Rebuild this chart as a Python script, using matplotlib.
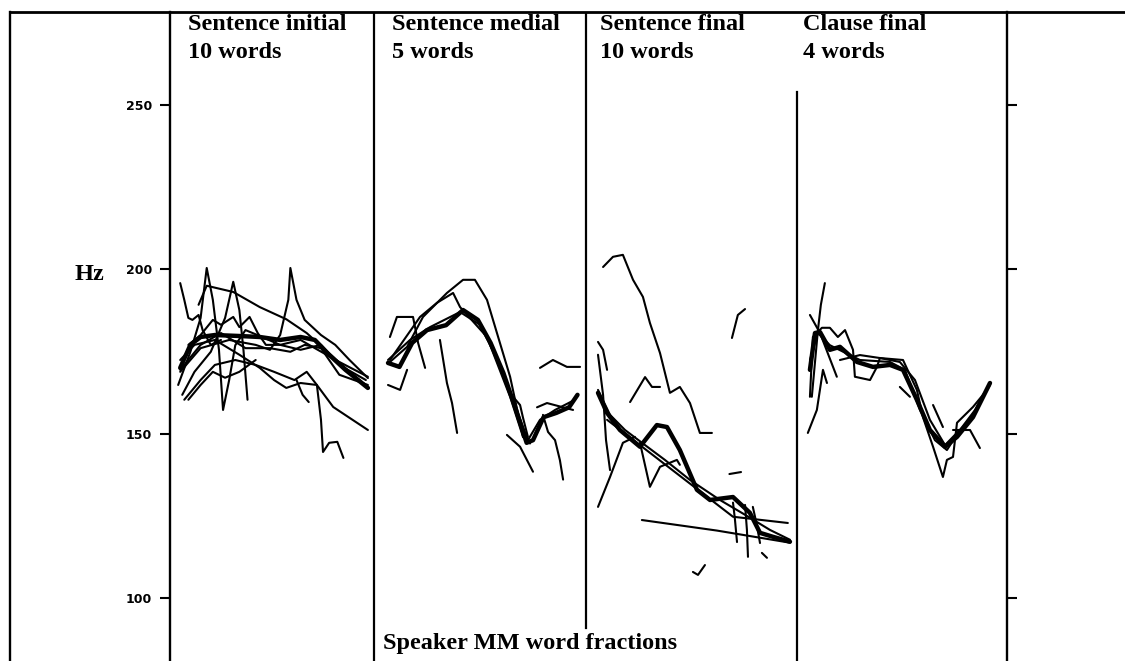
import matplotlib.pyplot as plt
from matplotlib.lines import Line2D

plt.rcParams['font.family'] = ['Liberation Serif', 'DejaVu Serif']

# panel titles
PANEL_NAMES = ["Sentence initial", "Sentence medial", "Sentence final", "Clause final"]
PANEL_COUNTS = ["10 words", "5 words", "10 words", "4 words"]
Y_TICKS = [100, 150, 200, 250]

# F0 contours: (word fraction within panel, Hz); *_MEAN is the thick average contour
INIT_WORDS = [
    ([.14, .18, .31, .44, .57, .67, .80, .88, .97],
     [189.2, 195, 193.1, 188.5, 184.8, 180.6, 173.3, 168.8, 164.2]),
    ([.04, .10, .15, .18, .21, .24, .26, .29, .32, .37, .44, .54, .64, .74, .83, .96],
     [164.8, 174.9, 185.2, 200.4, 190.7, 175.5, 157.2, 166.3, 176.9, 181.5, 179.7, 177, 175.5, 177, 170.9, 166.3]),
    ([.06, .12, .20, .27, .31, .34, .36, .38],
     [161.8, 168.8, 174.9, 185.2, 196.2, 187.6, 175.5, 160.3]),
    ([.05, .15, .29, .42, .49, .54, .58, .59, .62, .66, .74, .81, .88, .97],
     [168.8, 176, 178.5, 177, 175.5, 180, 190.7, 200.4, 190.7, 184.6, 180, 177, 172.4, 166.9]),
    ([.07, .15, .22, .32, .42, .51, .61, .67, .72, .74, .75, .78, .82, .85],
     [160.3, 166.3, 170.9, 172.4, 170.9, 168.8, 166.3, 168.8, 164.8, 154.2, 144.4, 147.2, 147.5, 142.6]),
    ([.05, .12, .22, .34, .44, .51, .57, .64, .72, .80, .88, .97],
     [172.4, 177, 178.5, 174, 170, 166.3, 163.9, 165.4, 164.8, 158.1, 154.8, 151.1]),
    ([.62, .65, .68], [166.3, 161.8, 159.6]),
    ([.09, .15, .21, .25, .31, .34, .39, .43, .47, .54, .64, .71, .83, .97],
     [177, 180, 184.6, 183.1, 185.5, 182.4, 185.5, 180.6, 177, 177, 178.5, 176, 171.8, 167.3]),
    ([.05, .07, .09, .11, .14, .16, .20, .25],
     [195.8, 190.7, 185.2, 184.6, 186.1, 181.5, 177, 178.5]),
    ([.09, .15, .21, .27, .34, .42], [160.3, 164.8, 168.8, 167, 168.8, 172.4]),
    ([.05, .15, .25, .37, .49, .59, .66, .74, .83, .97],
     [169.4, 177, 180.6, 176, 176, 174.9, 177, 176, 167.9, 164.8]),
]
INIT_MEAN = ([.05, .10, .15, .22, .34, .44, .54, .64, .71, .78, .86, .97],
             [170, 177, 179.4, 180, 179.7, 179.4, 178.5, 179.4, 178.5, 174, 169.4, 163.9])

MED_WORDS = [
    ([.075, .156, .231, .344, .420, .476, .533, .580, .642, .703, .736],
     [171.8, 176.4, 185.5, 192.8, 196.8, 196.8, 190.7, 180.6, 167.3, 149, 147]),
    ([.075, .217, .297, .373, .406, .533, .642, .703],
     [172.4, 185.5, 189.8, 192.8, 188.5, 179.4, 161.2, 149]),
    ([.075, .108, .184, .208, .241], [179.4, 185.5, 185.5, 177.6, 170]),
    ([.066, .123, .156], [164.8, 163.3, 169.4]),
    ([.311, .344, .368, .392], [178.5, 165.4, 159.3, 150.2]),
    ([.627, .689, .75], [149.6, 146, 138.4]),
    ([.656, .689, .703, .726], [161.2, 158.7, 154.8, 149]),
    ([.797, .821, .854, .877, .892], [155.7, 150.5, 148, 141.9, 136]),
    ([.783, .844, .910, .972], [170, 172.4, 170.3, 170.3]),
    ([.769, .816, .892, .939], [158, 159.3, 158, 157.2]),
    ([.066, .17, .264, .406, .5, .594, .665, .726, .783, .854, .948],
     [172.4, 178.5, 182.4, 187, 183.1, 170.9, 158.7, 148, 154.2, 157.2, 160.3]),
]
MED_MEAN = ([.066, .12, .18, .25, .34, .42, .49, .55, .61, .67, .72, .75, .80, .86, .92, .96],
            [171.5, 170.3, 177.6, 181.5, 183, 187.6, 184.6, 177.6, 168.5, 157.2, 147.2, 148, 155, 156.3, 158, 161.8])

FIN_WORDS = [
    ([.081, .128, .175, .223, .27, .303, .351, .398, .445, .493, .540, .597],
     [200.7, 203.8, 204.4, 196.8, 191.6, 183.7, 174.5, 162.4, 164.2, 159.3, 150.2, 150.2]),
    ([.057, .081, .10], [177.9, 175.5, 169.4]),
    ([.209, .28, .313, .351], [159.6, 167.2, 164.2, 164.2]),
    ([.692, .720, .754], [179.1, 186.1, 187.9]),
    ([.265, .62, .967], [123.7, 120.5, 116.8]),
    ([.10, .697, .957], [154.2, 124.7, 122.8]),
    ([.057, .114, .175, .232], [127.7, 136.8, 147.2, 149]),
    ([.057, .081, .095, .114], [174, 161.8, 148, 138.9]),
    ([.256, .303, .351, .431, .445], [147.2, 133.8, 139.9, 142, 140.5]),
    ([.68, .735], [137.7, 138.3]),
    ([.507, .531, .564], [107.9, 107, 110]),
    ([.697, .706, .716], [129, 124, 117]),
    ([.754, .763, .768], [128.3, 120.7, 112.5]),
    ([.791, .81, .825], [127.7, 122.2, 116.7]),
    ([.834, .858], [113.7, 112.2]),
    ([.057, .114, .185, .28, .374, .493, .635, .754, .872, .967],
     [163.3, 155.7, 151.1, 146.5, 142, 135.9, 129.8, 125.3, 120.7, 117.7]),
]
FIN_MEAN = ([.057, .10, .161, .256, .336, .384, .445, .526, .588, .697, .777, .825, .886, .967],
            [162.4, 156.3, 151.1, 146, 152.6, 152, 145, 132.9, 129.8, 130.7, 125.9, 119.8, 118.6, 117.1])

CLAUSE_WORDS = [
    ([.062, .076, .119, .157, .195, .229, .267, .276, .348, .381, .395, .505, .571, .60, .648,
      .695, .714, .743, .762, .838, .905],
     [161.2, 179.4, 182.2, 182.2, 179.4, 181.5, 175.5, 167.3, 166.3, 170.3, 173, 172.4, 163.3,
      155, 146, 136.8, 142, 142.9, 153.3, 158.1, 163.3]),
    ([.052, .095, .124, .143], [150.2, 157.2, 169.4, 165.4]),
    ([.071, .10, .114, .133], [161.2, 181.5, 189.2, 195.8]),
    ([.062, .11, .19], [186.1, 180.6, 167.3]),
    ([.648, .695], [158.7, 152]),
    ([.49, .538], [164.2, 161.2]),
    ([.743, .824, .871], [151.1, 151.1, 145.6]),
    ([.062, .10, .157, .30, .443, .514, .586, .657, .714, .776, .848, .919],
     [172.4, 180.6, 176.9, 172.4, 171.8, 169.4, 157.2, 148, 145, 151.1, 157.2, 165.4]),
    ([.205, .30, .395, .49, .562, .633, .705, .752, .824, .919],
     [172.4, 173.9, 173, 171.8, 166.3, 154.2, 146.5, 149.6, 154.2, 164.8]),
]
CLAUSE_MEAN = ([.062, .086, .11, .157, .205, .286, .362, .443, .505, .571, .633, .705, .762, .838, .919],
               [169.4, 180.6, 180.9, 175.5, 176.4, 171.8, 170.3, 170.9, 169.4, 160.3, 151.1, 146, 149, 155, 165.4])

panels = [(INIT_WORDS, INIT_MEAN), (MED_WORDS, MED_MEAN),
          (FIN_WORDS, FIN_MEAN), (CLAUSE_WORDS, CLAUSE_MEAN)]

W, H = 1125, 661
fig = plt.figure(figsize=(W / 100, H / 100), dpi=100)
ax = fig.add_axes([170 / W, 0, 837 / W, 649 / H])
ax.set_xlim(0, 4)
ax.set_ylim(80.8, 278.3)

edges = [0, 0.975, 1.988, 2.996, 4.0]

def draw(i, xs, hz, lw):
    x0, x1 = edges[i], edges[i + 1]
    ax.plot([x0 + f * (x1 - x0) for f in xs], hz, color='black', lw=lw,
            solid_joinstyle='round', solid_capstyle='round')

for i, (words, mean) in enumerate(panels):
    for xs, hz in words:
        draw(i, xs, hz, 1.5)
    draw(i, mean[0], mean[1], 3.2)

# axes frame
for s in ['top', 'bottom']:
    ax.spines[s].set_visible(False)
for s in ['left', 'right']:
    ax.spines[s].set_linewidth(1.7)
ax.set_xticks([])
ax.set_yticks(Y_TICKS)
ax.set_yticklabels([str(t) for t in Y_TICKS], fontsize=9, fontweight='bold',
                   family='DejaVu Sans')
ax.tick_params(axis='y', left=True, right=True, labelright=False,
               direction='out', length=7, width=1.5, pad=6)

ax.axvline(edges[1], color='black', lw=1.6)
ax.axvline(edges[2], ymin=0.051, color='black', lw=1.6)
ax.axvline(edges[3], ymax=0.877, color='black', lw=1.6)

fig.add_artist(Line2D([10 / W, 1], [1 - 12 / H] * 2, color='black', lw=2))
fig.add_artist(Line2D([10 / W] * 2, [0, 1 - 12 / H], color='black', lw=1.7))

title_x = [188, 392, 600, 803]
for name, count, px in zip(PANEL_NAMES, PANEL_COUNTS, title_x):
    fig.text(px / W, 1 - 30 / H, name, va='baseline', ha='left', fontsize=17.5, fontweight='bold')
    fig.text(px / W, 1 - 58 / H, count, va='baseline', ha='left', fontsize=17.5, fontweight='bold')

fig.text(89 / W, 1 - 274 / H, "Hz", ha='center', va='center', fontsize=17.5, fontweight='bold')
fig.text(383 / W, 1 - 649 / H, "Speaker MM word fractions", ha='left', va='baseline',
         fontsize=17.5, fontweight='bold')

fig.savefig('out.png', dpi=100)
